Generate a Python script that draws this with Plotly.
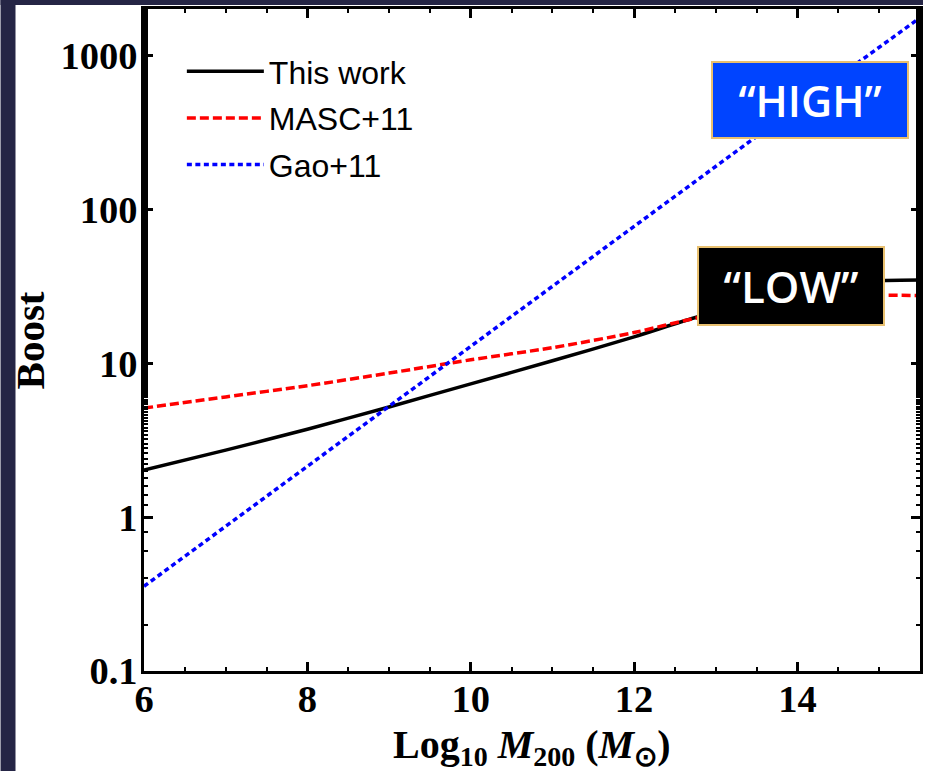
import plotly.graph_objects as go

# ---- data ----
log_mass = [6, 7, 8, 9, 10, 11, 12, 12.74, 13.5, 14, 14.5, 15, 15.5]
boost_this_work = [2.02, 2.72, 3.72, 5.19, 7.33, 10.35, 14.8, 19.7, 25.1, 28.8, 32.0, 34.3, 34.7]
boost_masc11 = [5.1, 6.03, 7.13, 8.61, 10.5, 12.6, 15.8, 19.5, 22.9, 25.1, 26.6, 27.5, 27.5]
log_mass_gao = [6, 8, 10, 12, 14, 15.5]
boost_gao11 = [0.355, 2.13, 12.8, 77, 465, 1750]

series_names = ["This work", "MASC+11", "Gao+11"]
x_ticks = [6, 8, 10, 12, 14]
y_ticks = [0.1, 1, 10, 100, 1000]
y_ticklabels = ["0.1", "1", "10", "100", "1000"]

W, H = 926, 771
L, R, T, B = 144, 3, 9, 100
PW, PH = W - L - R, H - T - B


def px_x(p):
    return (p - L) / PW


def px_y(p):
    return (H - B - p) / PH


fig = go.Figure()
fig.add_trace(go.Scatter(x=log_mass, y=boost_this_work, mode="lines", name=series_names[0],
                         legendgroup="a",
                         line=dict(color="black", width=3.5, shape="spline", smoothing=0.8)))
fig.add_trace(go.Scatter(x=log_mass, y=boost_masc11, mode="lines", name=series_names[1],
                         legendgroup="b",
                         line=dict(color="#ff0000", width=3.5, dash="9px,4px", shape="spline",
                                   smoothing=0.8)))
fig.add_trace(go.Scatter(x=log_mass_gao, y=boost_gao11, mode="lines", name=series_names[2],
                         legendgroup="c", line=dict(color="#0000ff", width=3.5, dash="5px,3.5px")))

tickfont = dict(family="Liberation Serif", size=38.5, color="black", weight="bold")
fig.update_xaxes(range=[6, 15.5], tickvals=x_ticks, ticks="inside", ticklen=9, tickwidth=2.5,
                 tickcolor="black", showline=True, linewidth=2.5, linecolor="black", mirror="ticks",
                 showgrid=False, zeroline=False, tickfont=tickfont, ticklabelstandoff=-8,
                 minor=dict(dtick=0.5, ticks="inside", ticklen=4, tickwidth=2, tickcolor="black",
                            showgrid=False))
fig.update_yaxes(type="log", range=[-1, 3.3], tickvals=y_ticks, ticktext=y_ticklabels,
                 ticks="inside", ticklen=9, tickwidth=2.5, tickcolor="black", showline=True,
                 linewidth=2.5, linecolor="black", mirror="ticks", showgrid=False, zeroline=False,
                 tickfont=tickfont, ticklabelstandoff=-4,
                 minor=dict(ticks="inside", ticklen=4, tickwidth=1.5, tickcolor="black",
                            showgrid=False))

navy = "#252545"
shapes = [
    dict(type="rect", xref="paper", yref="paper", x0=px_x(0), x1=px_x(W), y0=px_y(5), y1=px_y(0),
         fillcolor=navy, line=dict(width=0), layer="below"),
    dict(type="rect", xref="paper", yref="paper", x0=px_x(0), x1=px_x(15), y0=px_y(H), y1=px_y(0),
         fillcolor=navy, line=dict(width=0), layer="below"),
]

annotations = [
    dict(xref="paper", yref="paper", x=px_x(30), y=0.5, text="<b>Boost</b>", textangle=-90,
         showarrow=False, font=dict(family="Liberation Serif", size=41, color="black"),
         xanchor="center", yanchor="middle"),
    dict(xref="paper", yref="paper", x=0.5, y=px_y(747),
         text="<b>Log<sub>10</sub> <i>M</i><sub>200</sub> (<i>M</i><sub>⊙</sub>)</b>",
         showarrow=False, font=dict(family="Liberation Serif", size=40, color="black"),
         xanchor="center", yanchor="middle"),
    dict(xref="paper", yref="paper", x=px_x(813), y=px_y(100), text="“HIGH”", showarrow=False,
         font=dict(family="Open Sans", size=43, color="white", weight=600),
         bgcolor="#0044ff", bordercolor="#e8c070", borderwidth=2, borderpad=0,
         width=194, height=74, xanchor="center", yanchor="middle"),
    dict(xref="paper", yref="paper", x=px_x(793), y=px_y(286), text="“LOW”", showarrow=False,
         font=dict(family="Open Sans", size=44, color="white", weight=600),
         bgcolor="black", bordercolor="#e8c070", borderwidth=2, borderpad=0,
         width=184, height=76, xanchor="center", yanchor="middle"),
]

fig.update_layout(
    width=W, height=H, margin=dict(l=L, r=R, t=T, b=B),
    paper_bgcolor="white", plot_bgcolor="white",
    shapes=shapes, annotations=annotations,
    showlegend=True,
    legend=dict(x=px_x(182), y=px_y(44), xanchor="left", yanchor="top",
                bgcolor="rgba(0,0,0,0)", itemwidth=77, tracegroupgap=2,
                font=dict(family="Liberation Sans", size=32, color="black")),
)

fig.write_html("out.html")
